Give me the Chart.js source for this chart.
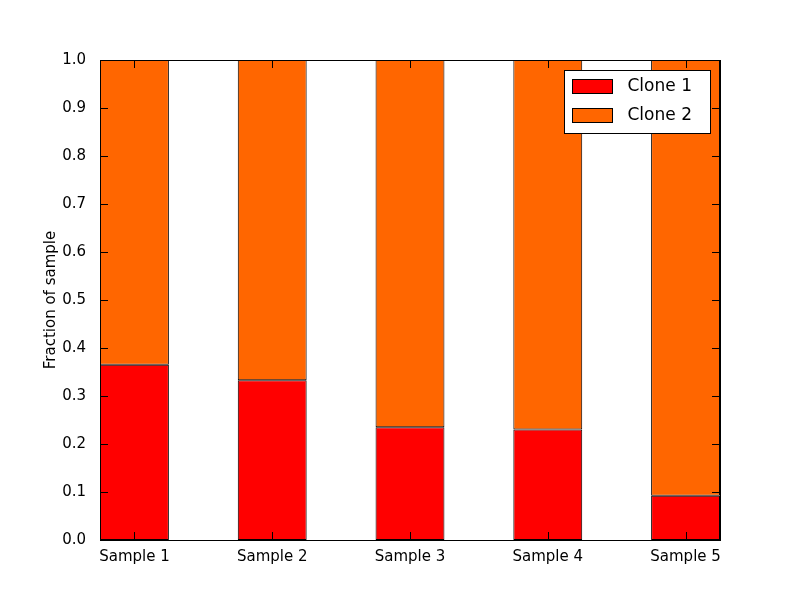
<!DOCTYPE html>
<html>
<head>
<meta charset="utf-8">
<script src="https://cdn.jsdelivr.net/npm/chart.js"></script>
<style>body{margin:0;background:#fff}#wrap{width:800px;height:600px}</style>
</head>
<body>
<div id="wrap"><canvas id="c" width="800" height="600"></canvas></div>
<script>
const samples = ['Sample 1', 'Sample 2', 'Sample 3', 'Sample 4', 'Sample 5'];
const clone1 = [0.365, 0.333, 0.235, 0.230, 0.092];
const clone2 = [0.635, 0.667, 0.765, 0.770, 0.908];
const seriesNames = ['Clone 1', 'Clone 2'];
const seriesColors = ['#ff0000', '#ff6600'];

const font = 'DejaVu Sans';

// inward ticks on all four sides + legend box, matplotlib classic style
const extras = {
    id: 'extras',
    afterDraw(chart) {
        const ctx = chart.ctx, a = chart.chartArea;
        const xs = chart.scales.x, ys = chart.scales.y;
        ctx.save();
        ctx.strokeStyle = '#000';
        ctx.lineWidth = 1;
        ctx.beginPath();
        ys.ticks.forEach(t => {
            const y = Math.round(ys.getPixelForValue(t.value)) + 0.5;
            ctx.moveTo(a.left, y); ctx.lineTo(a.left + 8, y);
            ctx.moveTo(a.right, y); ctx.lineTo(a.right - 8, y);
        });
        xs.ticks.forEach(t => {
            const x = Math.round(xs.getPixelForValue(t.value)) + 0.5;
            ctx.moveTo(x, a.bottom); ctx.lineTo(x, a.bottom - 8);
            ctx.moveTo(x, a.top); ctx.lineTo(x, a.top + 8);
        });
        ctx.stroke();
        ctx.strokeRect(a.left + 0.5, a.top + 0.5, a.right - a.left, a.bottom - a.top);

        // legend
        const bx = 564.5, by = 70.5, bw = 146, bh = 63;
        ctx.fillStyle = '#fff';
        ctx.fillRect(bx, by, bw, bh);
        ctx.strokeRect(bx, by, bw, bh);
        ctx.font = '17px ' + font;
        ctx.textBaseline = 'middle';
        seriesNames.forEach((n, i) => {
            const y = by + 16 + i * 29;
            ctx.fillStyle = seriesColors[i];
            ctx.fillRect(bx + 8, y - 7, 40, 14);
            ctx.strokeRect(bx + 8, y - 7, 40, 14);
            ctx.fillStyle = '#000';
            ctx.fillText(n, bx + 63, y);
        });
        ctx.restore();
    }
};

new Chart(document.getElementById('c'), {
    type: 'bar',
    data: {
        datasets: [clone1, clone2].map((vals, i) => ({
            label: seriesNames[i],
            data: vals.map((v, j) => ({ x: j, y: v })),
            backgroundColor: seriesColors[i],
            borderColor: '#000',
            borderWidth: 1,
            borderSkipped: false,
            barPercentage: 1,
            categoryPercentage: 0.5
        }))
    },
    options: {
        responsive: false,
        animation: false,
        layout: { padding: { left: 42, top: 60, right: 80, bottom: 0 } },
        plugins: { legend: { display: false }, tooltip: { enabled: false } },
        scales: {
            x: {
                type: 'linear', stacked: true, min: -0.25, max: 4.25, offset: false,
                afterFit(s) { s.height = 60; },
                afterBuildTicks(s) { s.ticks = samples.map((_, i) => ({ value: i })); },
                grid: { display: false, offset: false },
                border: { display: false },
                ticks: { color: '#000', font: { family: font, size: 15 }, padding: 0, maxRotation: 0,
                         callback: v => samples[v] }
            },
            y: {
                stacked: true, min: 0, max: 1,
                afterFit(s) { s.width = 58; },
                grid: { display: false },
                border: { display: false },
                title: { display: true, text: 'Fraction of sample', color: '#000', font: { family: font, size: 15 }, padding: 0 },
                ticks: { stepSize: 0.1, color: '#000', font: { family: font, size: 15 }, padding: 6,
                         callback: v => v.toFixed(1) }
            }
        }
    },
    plugins: [extras]
});
</script>
</body>
</html>
